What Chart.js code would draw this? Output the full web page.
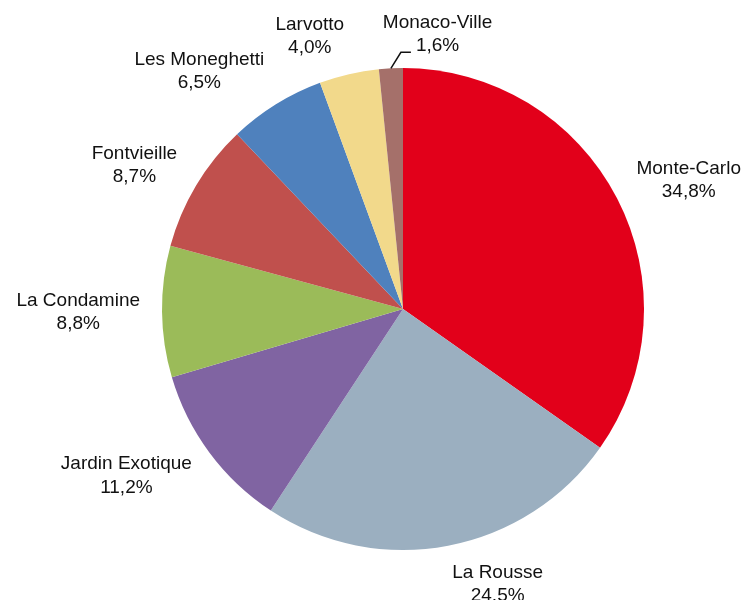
<!DOCTYPE html>
<html>
<head>
<meta charset="utf-8">
<script src="https://cdn.jsdelivr.net/npm/chart.js@4"></script>
<style>
  html, body { margin: 0; padding: 0; background: #fff; }
  #wrap { width: 749px; height: 600px; position: relative; }
</style>
</head>
<body>
<div id="wrap"><canvas id="c" width="749" height="600"></canvas></div>
<script>
// ── Données ──────────────────────────────────────────────
const quartiers = ['Monte-Carlo', 'La Rousse', 'Jardin Exotique', 'La Condamine',
                   'Fontvieille', 'Les Moneghetti', 'Larvotto', 'Monaco-Ville'];
const parts     = [34.8, 24.5, 11.2, 8.8, 8.7, 6.5, 4.0, 1.6];
const couleurs  = ['#e2001a', '#9bafc0', '#8064a2', '#9bbb59',
                   '#c0504d', '#4f81bd', '#f2d98b', '#a5706a'];

const FONT = '19px "Liberation Sans", Arial, sans-serif';
const LINE_H = 23.5;

// ── Étiquettes extérieures (nom + pourcentage) ───────────
const outerLabels = {
  id: 'outerLabels',
  afterDraw(chart) {
    const ctx = chart.ctx;
    const meta = chart.getDatasetMeta(0);
    ctx.save();
    ctx.font = FONT;
    ctx.fillStyle = '#111';
    ctx.textAlign = 'center';
    ctx.textBaseline = 'middle';
    meta.data.forEach((arc, i) => {
      const { x: cx, y: cy, outerRadius: r, startAngle, endAngle } = arc;
      const mid = (startAngle + endAngle) / 2;
      const s = Math.cos(mid);   // composante horizontale
      const c = Math.sin(mid);   // composante verticale (vers le bas)
      const pct = parts[i].toFixed(1).replace('.', ',') + '%';
      const w = Math.max(ctx.measureText(quartiers[i]).width, ctx.measureText(pct).width);

      if (parts[i] < 2) {
        // petite part : trait de rappel vers la droite
        const ex = cx + r * s, ey = cy + r * c;
        const kx = ex + 10, ky = ey - 16;
        ctx.strokeStyle = '#111';
        ctx.lineWidth = 1.5;
        ctx.beginPath();
        ctx.moveTo(ex, ey);
        ctx.lineTo(kx, ky);
        ctx.lineTo(kx + 10, ky);
        ctx.stroke();
        const pw = ctx.measureText(pct).width;
        const tx = kx + 15 + pw / 2;
        ctx.fillText(quartiers[i], tx, ky - 30);
        ctx.fillText(pct, tx, ky - 7);
        return;
      }

      const lx = cx + 263 / 241 * r * s + Math.sign(s) * w / 2;
      const ly = cy + 280 / 241 * r * c;
      ctx.fillText(quartiers[i], lx, ly - LINE_H / 2);
      ctx.fillText(pct, lx, ly + LINE_H / 2);
    });
    ctx.restore();
  }
};

new Chart(document.getElementById('c'), {
  type: 'pie',
  data: {
    labels: quartiers,
    datasets: [{
      data: parts,
      backgroundColor: couleurs,
      borderWidth: 0,
    }],
  },
  options: {
    responsive: false,
    animation: false,
    layout: { padding: { top: 68, bottom: 50, left: 162, right: 105 } },
    plugins: {
      legend: { display: false },
      tooltip: { enabled: false },
    },
  },
  plugins: [outerLabels],
});
</script>
</body>
</html>
